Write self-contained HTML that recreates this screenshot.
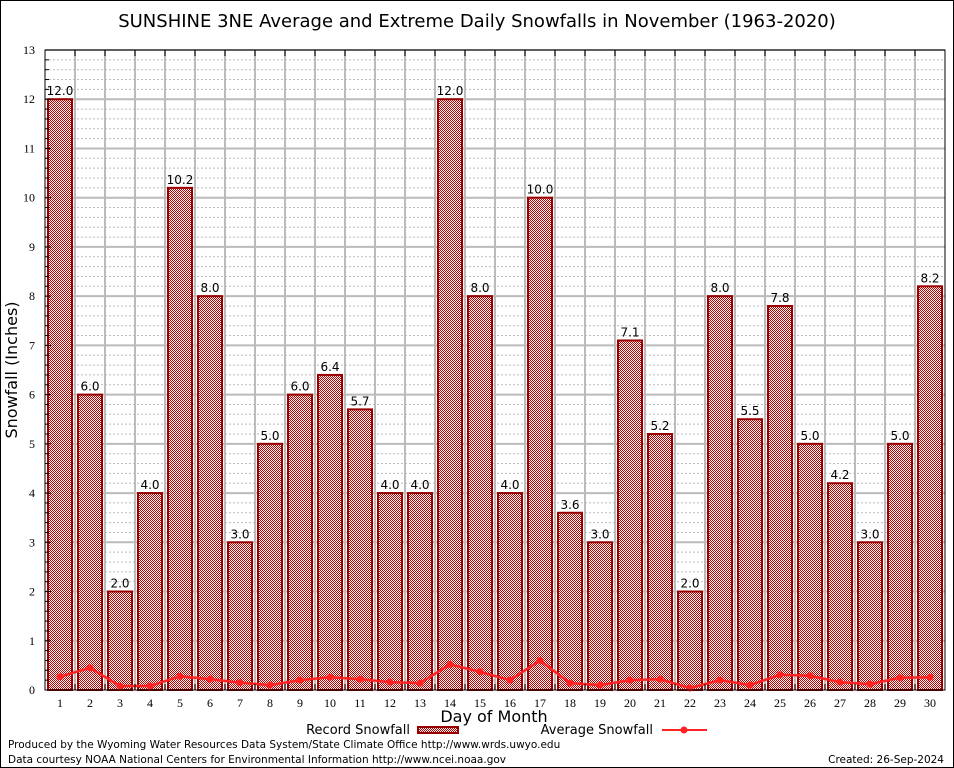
<!DOCTYPE html>
<html><head><meta charset="utf-8"><style>
body{margin:0;background:#fff}
svg{display:block;font-family:"DejaVu Sans","Liberation Sans",sans-serif}
</style></head><body>
<svg id="c" width="954" height="768">
<defs>
<pattern id="chk" width="2" height="2" patternUnits="userSpaceOnUse">
<rect width="2" height="2" fill="#fff"/><rect width="1" height="1" fill="#b00"/><rect x="1" y="1" width="1" height="1" fill="#b00"/>
</pattern>
</defs>
<rect x="0.5" y="0.5" width="953" height="767" fill="#fff" stroke="#000"/>
<text x="477" y="27" font-size="18" text-anchor="middle">SUNSHINE 3NE Average and Extreme Daily Snowfalls in November (1963-2020)</text>
<g id="grid"></g>
<g id="bars"></g>
<g id="avg"></g>
<g id="axes"></g>
<text transform="translate(17,370) rotate(-90)" font-size="16" text-anchor="middle">Snowfall (Inches)</text>
<text x="494" y="722" font-size="16" text-anchor="middle">Day of Month</text>
<g>
<text x="410" y="734" font-size="13" text-anchor="end">Record Snowfall</text>
<rect x="418" y="727" width="40" height="6" fill="url(#chk)" stroke="#900" stroke-width="2"/>
<text x="653" y="734" font-size="13" text-anchor="end">Average Snowfall</text>
<line x1="662" y1="730" x2="707" y2="730" stroke="#f22" stroke-width="2"/>
<circle cx="684" cy="730" r="3.5" fill="#f22"/>
</g>
<text x="8" y="748" font-size="10.5">Produced by the Wyoming Water Resources Data System/State Climate Office http://www.wrds.uwyo.edu</text>
<text x="8" y="763" font-size="10.5">Data courtesy NOAA National Centers for Environmental Information http://www.ncei.noaa.gov</text>
<text x="944" y="763" font-size="10.5" text-anchor="end">Created: 26-Sep-2024</text>
</svg>
<script>
const days=[1,2,3,4,5,6,7,8,9,10,11,12,13,14,15,16,17,18,19,20,21,22,23,24,25,26,27,28,29,30];
const recordSnow=[12.0,6.0,2.0,4.0,10.2,8.0,3.0,5.0,6.0,6.4,5.7,4.0,4.0,12.0,8.0,4.0,10.0,3.6,3.0,7.1,5.2,2.0,8.0,5.5,7.8,5.0,4.2,3.0,5.0,8.2];
const avgSnow=[0.27,0.45,0.08,0.08,0.28,0.22,0.15,0.1,0.2,0.26,0.22,0.16,0.14,0.52,0.37,0.2,0.6,0.14,0.1,0.2,0.22,0.04,0.2,0.1,0.31,0.29,0.16,0.12,0.25,0.26];
const yTicks=[0,1,2,3,4,5,6,7,8,9,10,11,12,13];
const L=45,R=945,T=50,B=690,yMax=13;
const NS="http://www.w3.org/2000/svg";
const y=v=>B-(v/yMax)*(B-T);
const xc=d=>L+(R-L)/days.length*(d-0.5);
const bw=(R-L)/days.length;
function mk(tag,attrs,parent,txt){const e=document.createElementNS(NS,tag);for(const k in attrs)e.setAttribute(k,attrs[k]);if(txt!==undefined)e.textContent=txt;parent.appendChild(e);return e;}
const grid=document.getElementById('grid'),bars=document.getElementById('bars'),avg=document.getElementById('avg'),axes=document.getElementById('axes');
for(let i=1;i<yMax*5;i++){if(i%5===0)continue;const v=i/5;
const ln=mk('line',{x1:L,x2:R,y1:y(v),y2:y(v),stroke:'#bbb','stroke-width':1,'stroke-dasharray':'2,2'},grid);

}
yTicks.forEach(t=>{if(t===0)return;
const ln=mk('line',{x1:L,x2:R,y1:y(t),y2:y(t),stroke:'#bbb','stroke-width':2},grid);

});
days.forEach((d,i)=>{if(i===0)return;const xx=L+bw*i;
const ln=mk('line',{x1:xx,x2:xx,y1:T,y2:B,stroke:'#bbb','stroke-width':2},grid);

});
days.forEach((d,i)=>{const v=recordSnow[i];
const r=mk('rect',{x:xc(d)-12,y:y(v),width:24,height:B-y(v),fill:'url(#chk)',stroke:'#900','stroke-width':2},bars);


const t=mk('text',{x:xc(d),y:y(v)-4,'font-size':12,'text-anchor':'middle'},bars,v.toFixed(1));

});
const pts=days.map((d,i)=>xc(d)+','+y(avgSnow[i])).join(' ');
const pl=mk('polyline',{points:pts,fill:'none',stroke:'#f22','stroke-width':2.5},avg);


days.forEach((d,i)=>{const c=mk('circle',{cx:xc(d),cy:y(avgSnow[i]),r:3.5,fill:'#f22'},avg);

});
const ax=mk('rect',{x:L,y:T,width:R-L,height:B-T,fill:'none',stroke:'#000','stroke-width':1},axes);


yTicks.forEach(t=>{const lb=mk('text',{x:L-10,y:y(t)+4,'font-size':12,'text-anchor':'end','font-family':'Liberation Serif, serif'},axes,t);


for(let k=0;k<5;k++){const v=t+k/5;if(v>yMax)break;
const tk=mk('line',{x1:L,x2:L+(k===0?6:4),y1:y(v),y2:y(v),stroke:'#000'},axes);

}});
days.forEach((d,i)=>{const lb=mk('text',{x:xc(d),y:B+17,'font-size':12,'text-anchor':'middle','font-family':'Liberation Serif, serif'},axes,d);


if(i>0){const xx=L+bw*i;
const tk=mk('line',{x1:xx,x2:xx,y1:B,y2:B-6,stroke:'#000'},axes);


const tk2=mk('line',{x1:xx,x2:xx,y1:T,y2:T+6,stroke:'#000'},axes);

}});
</script>
</body></html>
